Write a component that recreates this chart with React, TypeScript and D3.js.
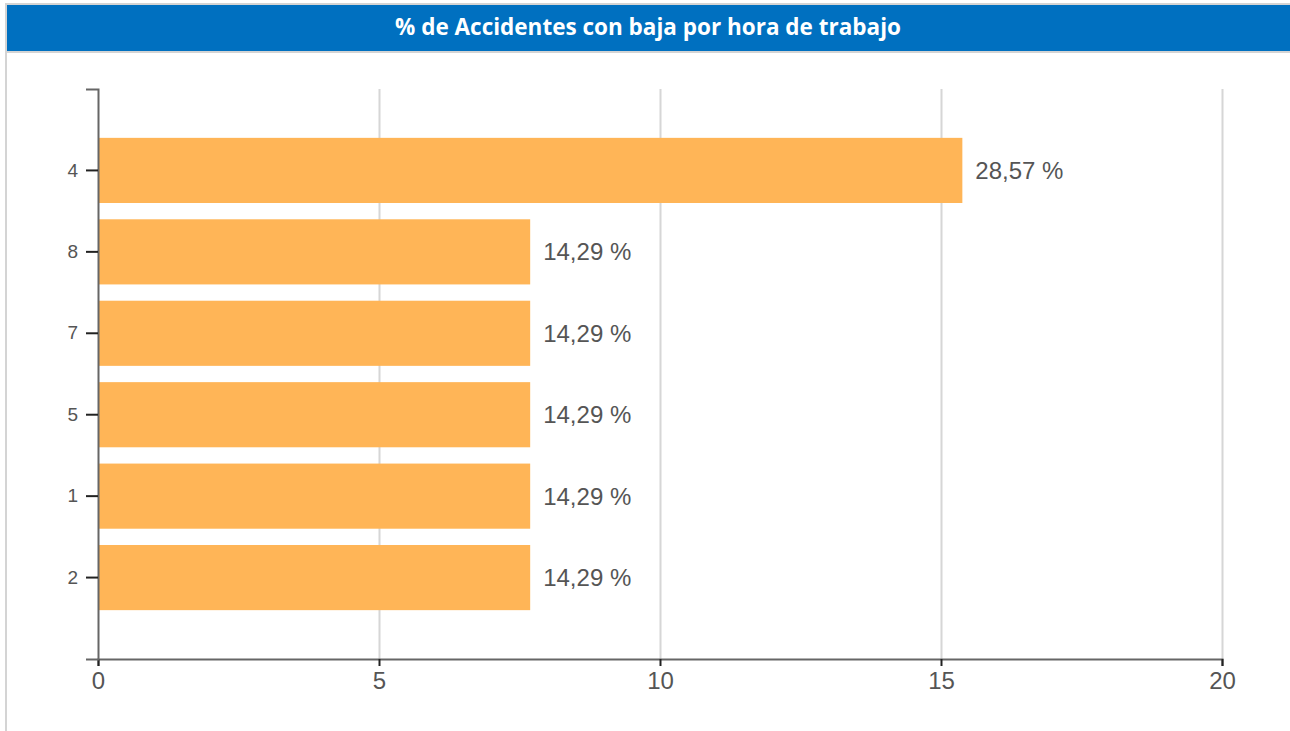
import React, { useEffect, useRef } from 'react';
import * as d3 from 'd3';

// categories top to bottom
const categories = ['4', '8', '7', '5', '1', '2'];
const values = [15.38, 7.69, 7.69, 7.69, 7.69, 7.69];
const labels = ['28,57 %', '14,29 %', '14,29 %', '14,29 %', '14,29 %', '14,29 %'];
const xTicks = [0, 5, 10, 15, 20];

const title = '% de Accidentes con baja por hora de trabajo';

const W = 1290;
const H = 731;

export default function App() {
  const ref = useRef<SVGSVGElement>(null);

  useEffect(() => {
    const svg = d3.select(ref.current);
    svg.selectAll('*').remove();

    // frame + header
    svg.append('rect').attr('x', 0).attr('y', 0).attr('width', W).attr('height', H).attr('fill', '#fff');
    svg.append('rect').attr('x', 5).attr('y', 3).attr('width', W - 5).attr('height', 2).attr('fill', '#d4d4d4');
    svg.append('rect').attr('x', 5).attr('y', 3).attr('width', 2).attr('height', H - 3).attr('fill', '#d4d4d4');
    svg.append('rect').attr('x', 7).attr('y', 5).attr('width', W - 7).attr('height', 46).attr('fill', '#0070c0');
    svg.append('rect').attr('x', 7).attr('y', 51).attr('width', W - 7).attr('height', 2).attr('fill', '#d4d4d4');
    svg.append('text')
      .attr('x', 648)
      .attr('y', 29)
      .attr('text-anchor', 'middle')
      .attr('dominant-baseline', 'middle')
      .style('font-family', '"Open Sans", Lato, sans-serif')
      .style('font-weight', 'bold')
      .style('font-size', '22.5px')
      .style('fill', '#fff')
      .text(title);

    const left = 98, right = 1222, top = 89, bottom = 659;

    const x = d3.scaleLinear().domain([0, 20]).range([left, right]);
    const y = d3.scaleBand().domain(categories).range([top, bottom]).paddingInner(0.2).paddingOuter(0.6);

    const data = categories.map((c, i) => ({ c, v: values[i], label: labels[i] }));

    // grid
    svg.append('g')
      .selectAll('line')
      .data(xTicks.filter((t) => t > 0))
      .enter()
      .append('line')
      .attr('x1', (d) => x(d) + 0.5)
      .attr('x2', (d) => x(d) + 0.5)
      .attr('y1', top)
      .attr('y2', bottom)
      .style('stroke', '#d6d6d6')
      .style('stroke-width', 2);

    // bars
    svg.append('g')
      .selectAll('rect')
      .data(data)
      .enter()
      .append('rect')
      .attr('x', x(0) + 1)
      .attr('y', (d) => y(d.c)!)
      .attr('width', (d) => x(d.v) - x(0) - 1)
      .attr('height', y.bandwidth())
      .style('fill', '#ffb557');

    svg.append('g')
      .selectAll('text')
      .data(data)
      .enter()
      .append('text')
      .attr('x', (d) => x(d.v) + 13)
      .attr('y', (d) => y(d.c)! + y.bandwidth() / 2)
      .attr('dominant-baseline', 'central')
      .style('font-family', '"Liberation Sans", Arial, sans-serif')
      .style('font-size', '24px')
      .style('fill', '#555')
      .text((d) => d.label);

    // axes
    const xAxis = svg.append('g')
      .attr('transform', `translate(0,${bottom})`)
      .call(d3.axisBottom(x).tickValues(xTicks).tickSize(7).tickPadding(6));
    xAxis.select('.domain').style('stroke', '#666').style('stroke-width', 2);
    xAxis.selectAll('.tick line').style('stroke', '#222').style('stroke-width', 2);
    xAxis.selectAll('.tick text')
      .style('font-family', '"Liberation Sans", Arial, sans-serif')
      .style('font-size', '24px')
      .style('fill', '#555');

    const yAxis = svg.append('g')
      .attr('transform', `translate(${left},0)`)
      .call(d3.axisLeft(y).tickSize(12).tickPadding(8));
    yAxis.select('.domain').style('stroke', '#666').style('stroke-width', 2);
    yAxis.selectAll('.tick line').style('stroke', '#222').style('stroke-width', 2);
    yAxis.selectAll('.tick text')
      .style('font-family', '"Liberation Sans", Arial, sans-serif')
      .style('font-size', '19px')
      .style('fill', '#555');
  }, []);

  return (
    <svg
      ref={ref}
      width={W}
      height={H}
      style={{ position: 'absolute', left: 0, top: 0, display: 'block' }}
    />
  );
}
